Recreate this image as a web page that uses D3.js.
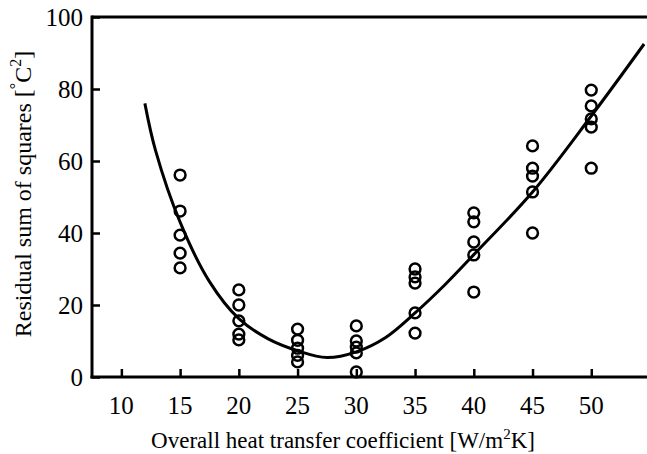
<!DOCTYPE html>
<html>
<head>
<meta charset="utf-8">
<script src="https://cdn.jsdelivr.net/npm/d3@7"></script>
<style>
  body { margin: 0; background: #fff; }
  text { font-family: "Liberation Serif", "Times New Roman", serif; fill: #000; }
</style>
</head>
<body>
<div id="chart"></div>
<script>
// measured points, one array per coefficient
const xCats = [15, 20, 25, 30, 35, 40, 45, 50];
const rss15 = [56.1, 46.1, 39.4, 34.4, 30.3];
const rss20 = [24.2, 20.0, 15.6, 11.9, 10.3];
const rss25 = [13.3, 10.2, 8.0, 6.0, 4.2];
const rss30 = [14.2, 10.0, 8.3, 6.7, 1.4];
const rss35 = [30.0, 27.8, 26.1, 17.8, 12.2];
const rss40 = [45.6, 43.1, 37.5, 33.9, 23.6];
const rss45 = [64.2, 58.0, 55.8, 51.4, 40.0];
const rss50 = [79.7, 75.3, 71.7, 69.4, 58.0];

// fitted curve
const fitX = [12, 12.9, 15, 17.5, 20, 22.5, 25, 27.5, 30, 32.5, 35, 37.5, 40, 45, 50, 54.5];
const fitY = [76, 63, 43, 26.5, 16.2, 10.6, 7.3, 5.4, 7, 11, 17.8, 25.5, 34, 51.4, 72.5, 92.5];

const xTicks = [10, 15, 20, 25, 30, 35, 40, 45, 50];
const yTicks = [0, 20, 40, 60, 80, 100];

const W = 647, H = 454;
const svg = d3.select("#chart").append("svg")
  .attr("width", W).attr("height", H);

const x = d3.scaleLinear().domain([7.5, 55]).range([92, 650]);
const y = d3.scaleLinear().domain([0, 100]).range([377, 17]);

const groups = [rss15, rss20, rss25, rss30, rss35, rss40, rss45, rss50];
const pts = [];
groups.forEach((g, i) => g.forEach(v => pts.push([xCats[i], v])));

// frame lines
svg.append("line")
  .attr("x1", x(7.5)).attr("x2", W)
  .attr("y1", y(100)).attr("y2", y(100))
  .attr("stroke", "#000").attr("stroke-width", 3);

// y axis
const yAxis = svg.append("g")
  .attr("transform", `translate(${x(7.5)},0)`)
  .call(d3.axisRight(y).tickValues(yTicks).tickSize(8).tickFormat(""));
yAxis.select(".domain").remove();
yAxis.selectAll("line").attr("stroke-width", 2.5);
svg.append("line")
  .attr("x1", x(7.5)).attr("x2", x(7.5))
  .attr("y1", y(100) - 1.5).attr("y2", y(0) + 1.5)
  .attr("stroke", "#000").attr("stroke-width", 3);
svg.selectAll(".ylab").data(yTicks).join("text")
  .attr("class", "ylab")
  .attr("x", x(7.5) - 9)
  .attr("y", d => y(d))
  .attr("dy", "0.36em")
  .attr("text-anchor", "end")
  .style("font-size", "25px")
  .text(d => d);

// x axis
const xAxis = svg.append("g")
  .attr("transform", `translate(0,${y(0)})`)
  .call(d3.axisTop(x).tickValues(xTicks).tickSize(8).tickFormat(""));
xAxis.select(".domain").remove();
xAxis.selectAll("line").attr("stroke-width", 2.5);
svg.append("line")
  .attr("x1", x(7.5) - 1.5).attr("x2", W)
  .attr("y1", y(0)).attr("y2", y(0))
  .attr("stroke", "#000").attr("stroke-width", 3);
svg.selectAll(".xlab").data(xTicks).join("text")
  .attr("class", "xlab")
  .attr("x", d => x(d))
  .attr("y", 414)
  .attr("text-anchor", "middle")
  .style("font-size", "25px")
  .text(d => d);

// fitted curve
const line = d3.line()
  .x(d => x(d[0])).y(d => y(d[1]))
  .curve(d3.curveCatmullRom);
svg.append("path")
  .datum(fitX.map((v, i) => [v, fitY[i]]))
  .attr("d", line)
  .attr("fill", "none")
  .attr("stroke", "#000")
  .attr("stroke-width", 3);

// data circles
svg.selectAll(".pt").data(pts).join("circle")
  .attr("class", "pt")
  .attr("cx", d => x(d[0]))
  .attr("cy", d => y(d[1]))
  .attr("r", 5.4)
  .attr("fill", "none")
  .attr("stroke", "#000")
  .attr("stroke-width", 2.5);

// axis titles
const xt = svg.append("text")
  .attr("x", 343).attr("y", 448)
  .attr("text-anchor", "middle")
  .style("font-size", "23px");
xt.append("tspan").text("Overall heat transfer coefficient [W/m");
xt.append("tspan").attr("dy", -9).style("font-size", "15px").text("2");
xt.append("tspan").attr("dy", 9).text("K]");

const yt = svg.append("text")
  .attr("transform", "translate(31,194) rotate(-90)")
  .attr("text-anchor", "middle")
  .style("font-size", "24px");
yt.append("tspan").text("Residual sum of squares [");
yt.append("tspan").attr("dy", -10).style("font-size", "16px").text("°");
yt.append("tspan").attr("dy", 10).text("C");
yt.append("tspan").attr("dy", -10).style("font-size", "16px").text("2");
yt.append("tspan").attr("dy", 10).text("]");
</script>
</body>
</html>
